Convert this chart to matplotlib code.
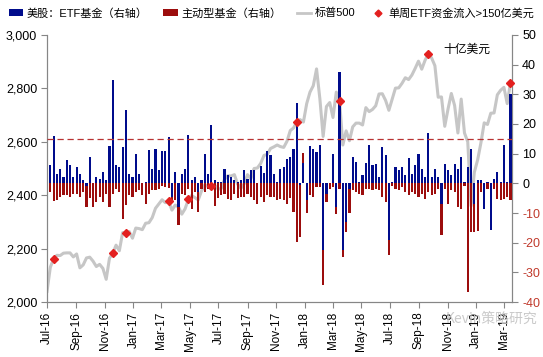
import matplotlib
matplotlib.use("Agg")
import matplotlib.pyplot as plt
import matplotlib.dates as mdates
import matplotlib.ticker as mticker
from matplotlib.lines import Line2D
from matplotlib.patches import Patch
import numpy as np
import pandas as pd

plt.rcParams['font.family'] = ['Liberation Sans', 'Noto Sans CJK SC', 'DejaVu Sans']
plt.rcParams['axes.unicode_minus'] = False

# weekly points, Jul-2016 .. Mar-2019
weeks = pd.date_range('2016-07-01', periods=142, freq='7D')

# S&P 500 (left axis)
sp500 = [
    2040, 2130, 2162, 2175, 2174, 2183, 2184, 2184, 2169, 2180, 2128, 2139, 2165, 2168,
    2153, 2133, 2141, 2126, 2085, 2164, 2182, 2213, 2192, 2260, 2258, 2264, 2239,
    2277, 2275, 2271, 2295, 2297, 2316, 2351, 2367, 2383, 2372, 2378, 2344, 2363, 2356,
    2329, 2349, 2384, 2399, 2391, 2382, 2416, 2439, 2432, 2433, 2438, 2423, 2425, 2459,
    2473, 2472, 2477, 2441, 2426, 2443, 2477, 2461, 2500, 2502, 2519, 2549, 2553, 2575,
    2581, 2588, 2582, 2579, 2602, 2642, 2652, 2675, 2683, 2674,
    2743, 2786, 2810, 2873, 2762, 2620, 2732, 2747, 2691, 2786, 2752, 2588, 2641, 2604,
    2656, 2670, 2670, 2663, 2728, 2713, 2721, 2735, 2779, 2780, 2755, 2718, 2760, 2801,
    2802, 2819, 2840, 2833, 2850, 2875, 2902, 2872, 2905, 2930, 2914, 2885, 2767, 2768,
    2658, 2723, 2781, 2736, 2633, 2760, 2633, 2600, 2360, 2486,
    2532, 2596, 2671, 2665, 2707, 2708, 2776, 2793, 2804, 2743, 2822,
]

# ETF flows, USD bn (right axis)
etf_flow = [
    0.0, 6.1, 15.8, 3.3, 4.9, 2.1, 8.0, 6.1, 2.1, 5.5,
    3.3, 1.0, -1.0, 8.9, 0.0, 2.1, 1.6, 3.8, 1.0, 12.5,
    34.7, 6.1, 5.5, 12.2, 24.6, 3.3, 2.0, 10.0, 3.3, 0.0,
    0.5, 11.1, 5.0, 11.7, 4.4, 11.0, 11.0, 15.5, -4.6, 3.8,
    -8.0, 3.3, 5.0, 16.2, 1.0, 2.0, -3.0, 1.0, 10.0, 3.0,
    19.6, 1.0, 0.5, 0.5, 5.0, 2.7, 2.1, 1.0, 0.5, 1.0,
    4.4, 1.6, 4.4, 4.6, 0.0, 5.7, 3.5, 11.0, 9.4, 3.3,
    0.5, 5.0, 5.5, 8.3, 8.9, 11.7, 27.1, -0.5, 7.0, -5.7,
    12.5, 11.7, 10.6, 12.8, -22.6, -3.5, 0.0, 10.0, -8.0, 37.5,
    -22.6, -13.0, -2.0, 8.9, 7.2, 0.5, 2.7, 6.9, 13.0, 6.3,
    6.6, 2.1, 12.2, 9.4, -19.2, 0.5, 5.5, 4.4, 5.5, 2.7,
    8.7, 3.3, 6.1, 10.0, 4.9, 2.1, 17.0, 2.1, 4.9, 2.1,
    -6.9, 6.6, 4.4, 2.7, 6.6, 4.9, 8.9, 0.5, 5.5, 11.7,
    -6.9, 1.0, 1.0, -8.5, 0.5, -15.8, 1.6, 3.8, 0.5, 12.8,
    0.5, 30.2,
]

# active fund flows, USD bn (right axis)
active_flow = [
    0.0, -2.9, -6.1, -5.7, -4.6, -4.0, -4.0, -4.6, -3.5, -3.5,
    -4.5, -3.0, -7.0, -5.0, -8.0, -6.3, -4.6, -6.3, -3.5, -8.0,
    -3.5, -1.8, -3.0, -11.9, -7.4, -4.0, -4.6, -3.0, -2.4, -4.0,
    -6.9, -3.5, -2.4, -2.4, -1.8, -1.0, -1.2, -1.5, -1.0, -5.7,
    -6.0, -3.5, -4.0, -2.0, -8.7, -3.0, -6.7, -2.0, -3.0, -2.0,
    -1.0, -7.8, -5.0, -4.0, -3.5, -5.2, -5.5, -3.5, -5.0, -4.6,
    -4.6, -3.5, -4.6, -5.7, -6.9, -4.6, -6.3, -4.0, -4.6, -4.6,
    -5.7, -5.2, -5.5, -6.9, -5.0, -9.7, -19.8, -17.5, 3.2, -4.3,
    -4.0, -4.6, -1.2, -1.2, -11.8, -2.8, -1.8, -1.2, -2.2, -1.8,
    -2.2, -3.4, -8.0, -2.4, -2.9, -3.5, -4.0, -1.8, -1.8, -2.4,
    -1.8, -2.4, -4.6, -6.3, -5.1, -1.0, -1.8, -2.4, -1.2, -2.9,
    -4.0, -2.9, -3.5, -4.6, -3.5, -5.2, -2.9, -4.0, -3.5, -1.8,
    -10.6, -1.8, -6.9, -2.4, -2.9, -8.0, -8.5, -1.0, -36.6, -16.5,
    -9.5, -16.0, -3.0, 0.0, -1.8, 0.0, -1.8, -5.2, -5.7, -5.2,
    -4.6, -5.7,
]

threshold = 15  # 150亿美元

etf = np.array(etf_flow)
act = np.array(active_flow)
# excel-style stacking: same sign stacks on top of the ETF bar
act_bottom = np.where(np.sign(act) == np.sign(etf), etf, 0.0)
big_week = etf > threshold

fig = plt.figure(figsize=(5.43, 3.57), dpi=100)
ax = fig.add_axes([0.0866, 0.154, 0.857, 0.748])
ax2 = ax.twinx()

grey = '#868686'
ax.plot(weeks, sp500, color='#c6c6c6', lw=2.2, solid_joinstyle='round', zorder=2)

bw = 4.6
ax2.bar(weeks, etf, width=bw, color='#000c8c', zorder=3)
ax2.bar(weeks, act, width=bw, bottom=act_bottom, color='#9c0d0d', zorder=3)
ax2.axhline(threshold, color='#b83232', lw=0.9, dashes=(5, 3), zorder=4)
ax2.plot(weeks[big_week], np.array(sp500)[big_week], ls='none', marker='D', ms=4,
         color='#e3201f', transform=ax.transData, zorder=5, clip_on=False)

ax.set_xlim(pd.Timestamp('2016-07-01'), pd.Timestamp('2019-03-19'))
ax.set_ylim(2000, 3000)
ax2.set_ylim(-40, 50)

ax.yaxis.set_major_locator(mticker.MultipleLocator(200))
ax.yaxis.set_major_formatter(mticker.FuncFormatter(lambda v, p: f'{v:,.0f}'))
ax2.yaxis.set_major_locator(mticker.MultipleLocator(10))
ax.xaxis.set_major_locator(mdates.MonthLocator(bymonth=[1, 3, 5, 7, 9, 11]))
ax.xaxis.set_major_formatter(mdates.DateFormatter('%b-%y'))

for a in (ax, ax2):
    a.spines['top'].set_visible(False)
    for s in ('left', 'right', 'bottom'):
        a.spines[s].set_color(grey)
ax.tick_params(axis='y', direction='out', length=4, color=grey, labelsize=9, pad=3)
ax.tick_params(axis='x', direction='out', length=4, color=grey, labelsize=8.5,
               labelrotation=90, pad=3)
ax2.tick_params(axis='y', direction='out', length=4, color=grey, labelsize=9, pad=3)
fig.canvas.draw()
for lbl in ax2.get_yticklabels():
    if lbl.get_text().startswith('-'):
        lbl.set_color('#c0392b')

ax2.text(0.953, 0.972, '十亿美元', transform=ax2.transAxes, ha='right', va='top',
         fontsize=8.5, family=['Noto Sans CJK SC', 'DejaVu Sans'])

handles = [
    Patch(facecolor='#000c8c'),
    Patch(facecolor='#9c0d0d'),
    Line2D([], [], color='#c6c6c6', lw=2),
    Line2D([], [], ls='none', marker='D', ms=3.5, color='#e3201f'),
]
labels = ['美股：ETF基金（右轴）', '主动型基金（右轴）', '标普500', '单周ETF资金流入>150亿美元']
fig.legend(handles, labels, loc='upper center', bbox_to_anchor=(0.5, 1.0), ncol=4,
           frameon=False, fontsize=8, handlelength=1.3, handleheight=0.7,
           handletextpad=0.3, columnspacing=1.4, borderaxespad=0.3)

# watermark sits over the last tick labels, as in the source image
fig.text(0.82, 0.095, 'Kevin策略研究', color='#c4c4c4', fontsize=10, alpha=0.9,
         family=['Noto Sans CJK SC', 'DejaVu Sans'])

fig.savefig('out.png', dpi=100)
